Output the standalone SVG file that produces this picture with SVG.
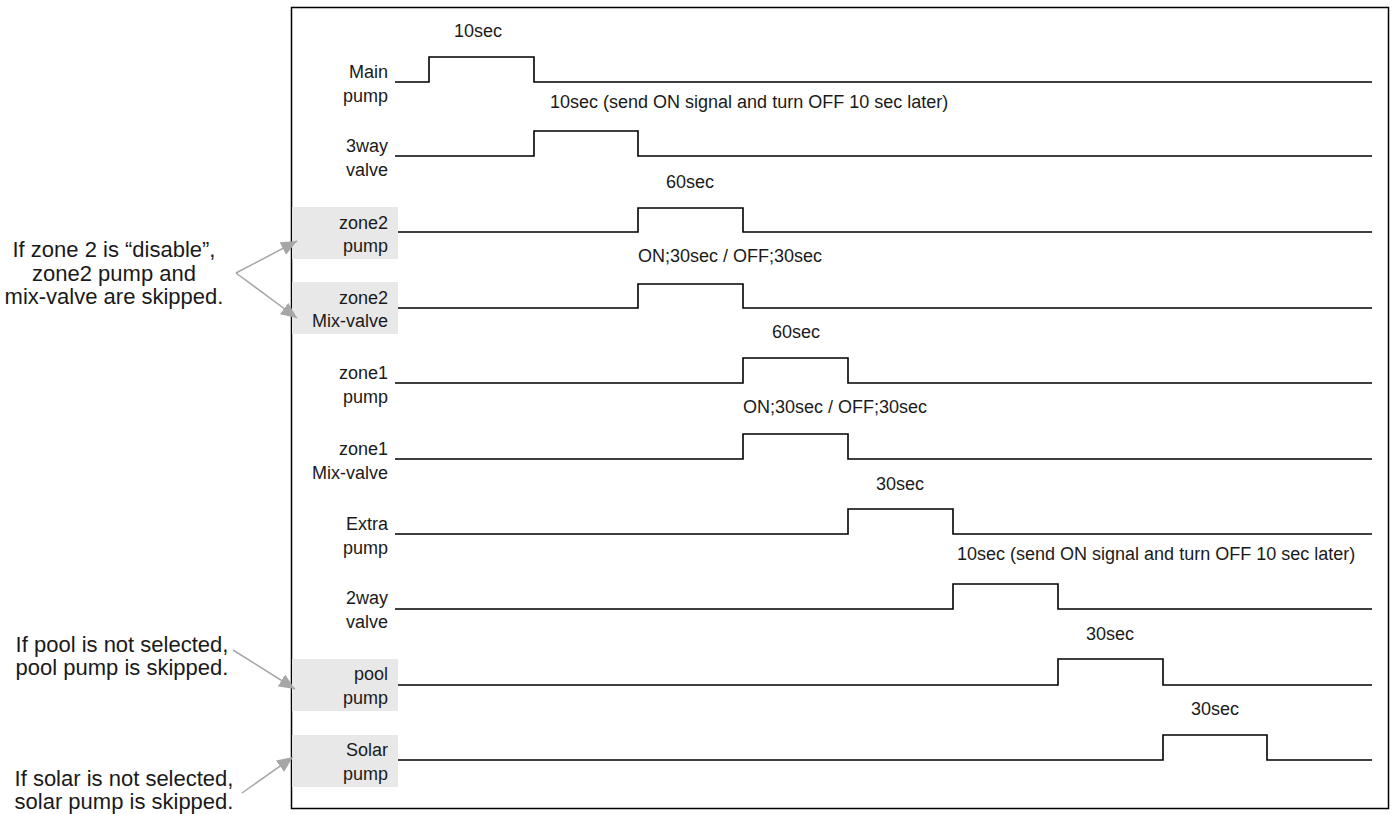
<svg xmlns="http://www.w3.org/2000/svg" width="1393" height="814" viewBox="0 0 1393 814">
<style>
text{font-family:"Liberation Sans",Arial,sans-serif;fill:#1a1a1a}
.lbl{font-size:18px;text-anchor:end}
.ann{font-size:22px;text-anchor:middle}
.note{font-size:18px}
.mid{text-anchor:middle}
.sig{fill:none;stroke:#000;stroke-width:1.6}
.box{fill:#e8e8e8}
.arr{stroke:#a6a6a6;stroke-width:1.5;fill:none;marker-end:url(#ah)}
</style>
<defs>
<marker id="ah" markerUnits="userSpaceOnUse" markerWidth="16" markerHeight="14" refX="16" refY="7" orient="auto">
<path d="M0,0 L16,7 L0,14 z" fill="#a6a6a6"/>
</marker>
</defs>
<rect width="1393" height="814" fill="#fff"/>
<rect x="291.5" y="7.5" width="1097" height="801" fill="none" stroke="#000" stroke-width="1.5"/>

<g id="main-pump">
<text class="lbl" x="388" y="78">Main</text><text class="lbl" x="388" y="102">pump</text>
<path class="sig" d="M395,82 H429 V57 H534 V82 H1372"/>
<text class="note mid" x="478" y="37">10sec</text>
<text class="note" x="550" y="108">10sec (send ON signal and turn OFF 10 sec later)</text>
</g>
<g id="3way-valve">
<text class="lbl" x="388" y="152">3way</text><text class="lbl" x="388" y="176">valve</text>
<path class="sig" d="M395,156 H534 V131 H638 V156 H1372"/>
</g>
<g id="zone2-pump">
<rect class="box" x="292" y="207" width="106" height="52"/>
<text class="lbl" x="388" y="229">zone2</text><text class="lbl" x="388" y="252">pump</text>
<path class="sig" d="M398,232 H638 V208 H743 V232 H1372"/>
<text class="note mid" x="690" y="188">60sec</text>
<text class="note" x="638" y="262">ON;30sec / OFF;30sec</text>
</g>
<g id="zone2-mix-valve">
<rect class="box" x="292" y="282" width="106" height="52"/>
<text class="lbl" x="388" y="304">zone2</text><text class="lbl" x="388" y="327">Mix-valve</text>
<path class="sig" d="M398,308 H638 V284 H743 V308 H1372"/>
</g>
<g id="zone1-pump">
<text class="lbl" x="388" y="379">zone1</text><text class="lbl" x="388" y="403">pump</text>
<path class="sig" d="M395,383 H743 V358 H848 V383 H1372"/>
<text class="note mid" x="796" y="338">60sec</text>
<text class="note" x="743" y="413">ON;30sec / OFF;30sec</text>
</g>
<g id="zone1-mix-valve">
<text class="lbl" x="388" y="455">zone1</text><text class="lbl" x="388" y="479">Mix-valve</text>
<path class="sig" d="M395,459 H743 V434 H848 V459 H1372"/>
</g>
<g id="extra-pump">
<text class="lbl" x="388" y="530">Extra</text><text class="lbl" x="388" y="554">pump</text>
<path class="sig" d="M395,534 H848 V509 H953 V534 H1372"/>
<text class="note mid" x="900" y="490">30sec</text>
<text class="note" x="957" y="560">10sec (send ON signal and turn OFF 10 sec later)</text>
</g>
<g id="2way-valve">
<text class="lbl" x="388" y="604">2way</text><text class="lbl" x="388" y="628">valve</text>
<path class="sig" d="M395,609 H953 V584 H1058 V609 H1372"/>
</g>
<g id="pool-pump">
<rect class="box" x="292" y="659" width="106" height="52"/>
<text class="lbl" x="388" y="680">pool</text><text class="lbl" x="388" y="704">pump</text>
<path class="sig" d="M398,685 H1058 V659 H1163 V685 H1372"/>
<text class="note mid" x="1110" y="640">30sec</text>
</g>
<g id="solar-pump">
<rect class="box" x="292" y="735" width="106" height="52"/>
<text class="lbl" x="388" y="756">Solar</text><text class="lbl" x="388" y="780">pump</text>
<path class="sig" d="M398,760 H1163 V735 H1267 V760 H1372"/>
<text class="note mid" x="1215" y="715">30sec</text>
</g>

<g id="note-zone2">
<text class="ann" x="114" y="257">If zone 2 is “disable”,</text>
<text class="ann" x="114" y="281">zone2 pump and</text>
<text class="ann" x="114" y="304">mix-valve are skipped.</text>
</g>
<g id="note-pool">
<text class="ann" x="122" y="652">If pool is not selected,</text>
<text class="ann" x="122" y="675">pool pump is skipped.</text>
</g>
<g id="note-solar">
<text class="ann" x="124" y="786">If solar is not selected,</text>
<text class="ann" x="124" y="809">solar pump is skipped.</text>
</g>

<g id="connectors">
<line class="arr" x1="236" y1="273" x2="297" y2="241"/>
<line class="arr" x1="236" y1="273" x2="297" y2="318"/>
<line class="arr" x1="233" y1="650" x2="295" y2="689"/>
<line class="arr" x1="242" y1="793" x2="293" y2="757"/>
</g>
</svg>
